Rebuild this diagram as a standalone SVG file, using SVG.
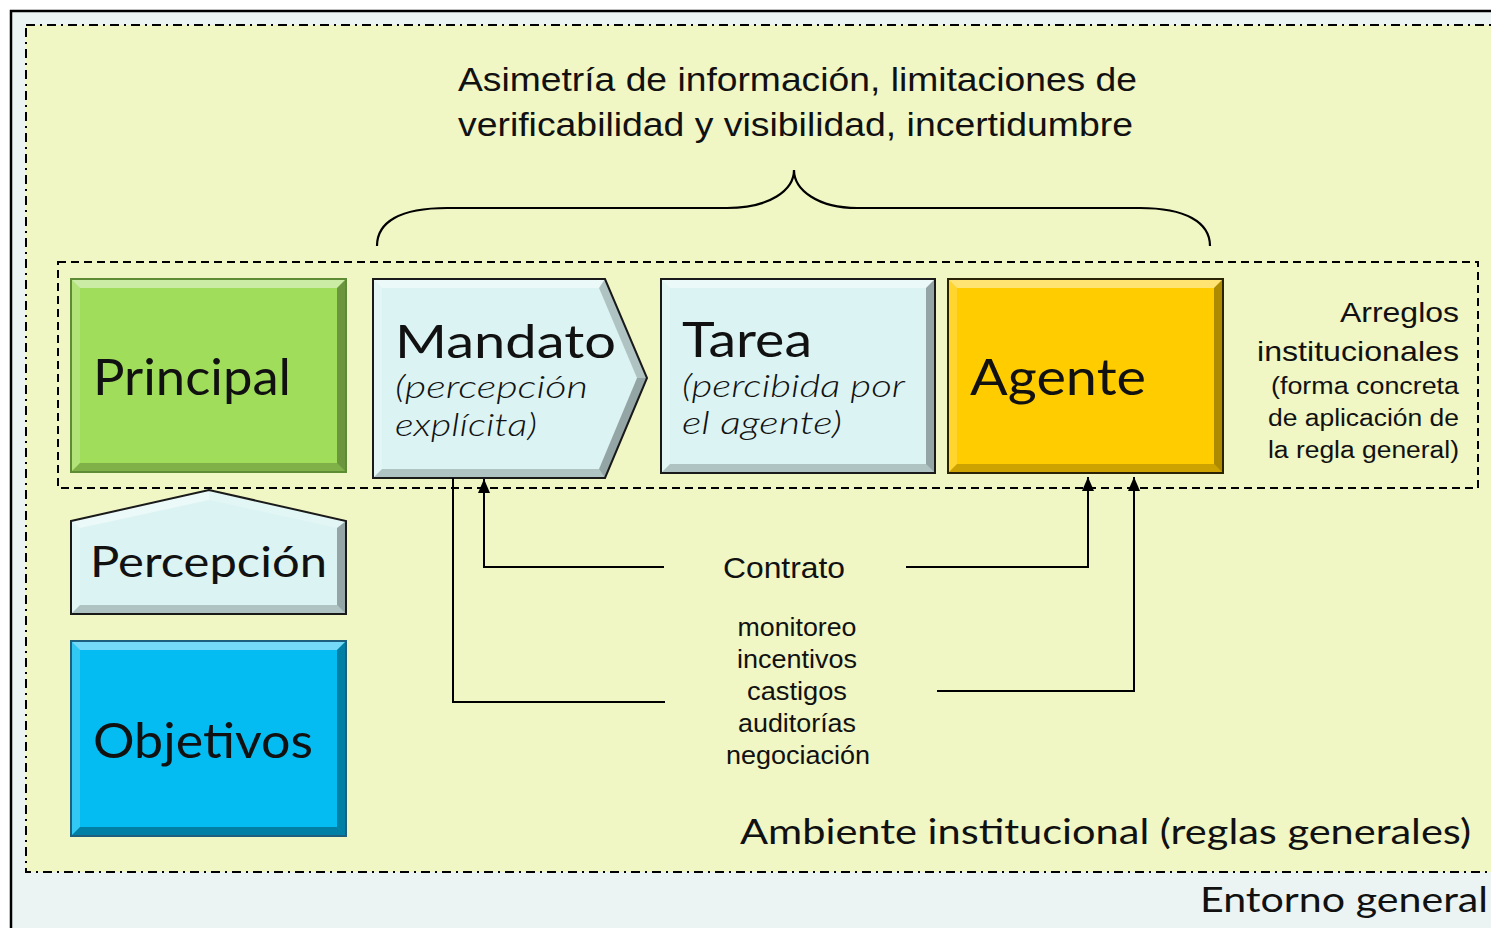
<svg xmlns="http://www.w3.org/2000/svg" width="1491" height="928" viewBox="0 0 1491 928">
<style>
.hl{fill:#fff;fill-opacity:.45}
.hl2{fill:#fff;fill-opacity:.18}
.sh{fill:#000;fill-opacity:.32}
.sh2{fill:#000;fill-opacity:.2}
.g{font-family:Lato,"Open Sans",sans-serif;font-weight:400;fill:#111}
.gi{font-family:Lato,"Open Sans",sans-serif;font-weight:300;font-style:italic;fill:#111}
.a{font-family:"Liberation Sans",Arial,sans-serif;fill:#111}
.conn{fill:none;stroke:#000;stroke-width:2}
</style>
<defs>
<marker id="arr" viewBox="0 0 14 12" refX="14" refY="6" markerWidth="14" markerHeight="12" markerUnits="userSpaceOnUse" orient="auto">
<path d="M0,0 L14,6 L0,12 z" fill="#000"/>
</marker>
</defs>
<rect x="0" y="0" width="1491" height="928" fill="#ffffff"/>
<rect id="entorno" x="11" y="11" width="1500" height="940" fill="#ECF4F3" stroke="#000" stroke-width="2.5"/>
<rect id="ambiente" x="26" y="25" width="1490" height="847" fill="#F0F6C4" stroke="#000" stroke-width="2" stroke-dasharray="9,5,2,5"/>
<rect id="arreglos-box" x="58" y="262" width="1420" height="226" fill="none" stroke="#000" stroke-width="2" stroke-dasharray="8,5"/>

<g id="title">
<text class="a" x="458" y="91" font-size="34" textLength="679" lengthAdjust="spacingAndGlyphs">Asimetría de información, limitaciones de</text>
<text class="a" x="458" y="136" font-size="34" textLength="675" lengthAdjust="spacingAndGlyphs">verificabilidad y visibilidad, incertidumbre</text>
</g>
<g id="brace">
<path d="M377,246 C377,222 400,208 447,208 L727,208 C770,208 794,190 794,170 C794,190 818,208 857,208 L1140,208 C1185,208 1210,222 1210,246" fill="none" stroke="#000" stroke-width="2.2"/>
</g>

<g id="principal">
<rect x="71" y="279" width="275" height="193" fill="#A0DD5B"/>
<polygon class="hl" points="71,279 346,279 337,288 80,288"/>
<polygon class="hl2" points="71,279 80,288 80,463 71,472"/>
<polygon class="sh" points="346,279 346,472 337,463 337,288"/>
<polygon class="sh2" points="71,472 346,472 337,463 80,463"/>
<rect x="71" y="279" width="275" height="193" fill="none" stroke="#5E8C34" stroke-width="2"/>
<text class="g" x="93" y="395" font-size="51" textLength="198" lengthAdjust="spacingAndGlyphs">Principal</text>
</g>

<g id="mandato">
<polygon points="373,279 605,279 647,378 605,478 373,478" fill="#DBF4F3"/>
<polygon class="hl" points="373,279 605,279 599,288 382,288"/>
<polygon class="hl2" points="373,279 382,288 382,469 373,478"/>
<polygon class="sh2" points="605,279 647,378 637,378 599,288"/>
<polygon class="sh" points="647,378 605,478 599,469 637,378"/>
<polygon class="sh2" points="373,478 605,478 599,469 382,469"/>
<polygon points="373,279 605,279 647,378 605,478 373,478" fill="none" stroke="#1a1a1a" stroke-width="2"/>
<text class="g" x="395" y="358" font-size="47" textLength="221" lengthAdjust="spacingAndGlyphs">Mandato</text>
<text class="gi" x="395" y="398" font-size="31" textLength="193" lengthAdjust="spacingAndGlyphs">(percepción</text>
<text class="gi" x="395" y="436" font-size="31" textLength="142" lengthAdjust="spacingAndGlyphs">explícita)</text>
</g>

<g id="tarea">
<rect x="661" y="279" width="274" height="194" fill="#DBF4F3"/>
<polygon class="hl" points="661,279 935,279 926,288 670,288"/>
<polygon class="hl2" points="661,279 670,288 670,464 661,473"/>
<polygon class="sh" points="935,279 935,473 926,464 926,288"/>
<polygon class="sh2" points="661,473 935,473 926,464 670,464"/>
<rect x="661" y="279" width="274" height="194" fill="none" stroke="#1a1a1a" stroke-width="2"/>
<text class="g" x="682" y="357" font-size="48" textLength="130" lengthAdjust="spacingAndGlyphs">Tarea</text>
<text class="gi" x="682" y="397" font-size="31" textLength="223" lengthAdjust="spacingAndGlyphs">(percibida por</text>
<text class="gi" x="682" y="434" font-size="31" textLength="160" lengthAdjust="spacingAndGlyphs">el agente)</text>
</g>

<g id="agente">
<rect x="948" y="279" width="275" height="194" fill="#FFCC00"/>
<polygon class="hl" points="948,279 1223,279 1214,288 957,288"/>
<polygon class="hl2" points="948,279 957,288 957,464 948,473"/>
<polygon class="sh" points="1223,279 1223,473 1214,464 1214,288"/>
<polygon class="sh2" points="948,473 1223,473 1214,464 957,464"/>
<rect x="948" y="279" width="275" height="194" fill="none" stroke="#2a2205" stroke-width="2"/>
<text class="g" x="970" y="395" font-size="50" textLength="176" lengthAdjust="spacingAndGlyphs">Agente</text>
</g>

<g id="arreglos">
<text class="a" x="1459" y="322" font-size="28" text-anchor="end" textLength="119" lengthAdjust="spacingAndGlyphs">Arreglos</text>
<text class="a" x="1459" y="361" font-size="28" text-anchor="end" textLength="202" lengthAdjust="spacingAndGlyphs">institucionales</text>
<text class="a" x="1459" y="394" font-size="23" text-anchor="end" textLength="188" lengthAdjust="spacingAndGlyphs">(forma concreta</text>
<text class="a" x="1459" y="426" font-size="23" text-anchor="end" textLength="191" lengthAdjust="spacingAndGlyphs">de aplicación de</text>
<text class="a" x="1459" y="458" font-size="23" text-anchor="end" textLength="191" lengthAdjust="spacingAndGlyphs">la regla general)</text>
</g>

<g id="percepcion">
<polygon points="71,521 209,490 346,521 346,614 71,614" fill="#DBF4F3"/>
<polygon class="hl" points="71,521 209,490 209,500 80,528"/>
<polygon class="hl2" points="209,490 346,521 337,528 209,500"/>
<polygon class="hl2" points="71,521 80,528 80,605 71,614"/>
<polygon class="sh" points="346,521 346,614 337,605 337,528"/>
<polygon class="sh2" points="71,614 346,614 337,605 80,605"/>
<polygon points="71,521 209,490 346,521 346,614 71,614" fill="none" stroke="#1a1a1a" stroke-width="2"/>
<text class="g" x="90" y="577" font-size="43" textLength="237" lengthAdjust="spacingAndGlyphs">Percepción</text>
</g>

<g id="objetivos">
<rect x="71" y="641" width="275" height="195" fill="#04BCF2"/>
<polygon class="hl" points="71,641 346,641 337,650 80,650"/>
<polygon class="hl2" points="71,641 80,650 80,827 71,836"/>
<polygon class="sh" points="346,641 346,836 337,827 337,650"/>
<polygon class="sh" points="71,836 346,836 337,827 80,827"/>
<rect x="71" y="641" width="275" height="195" fill="none" stroke="#1E5F7E" stroke-width="2"/>
<text class="g" x="93" y="758" font-size="48" textLength="220" lengthAdjust="spacingAndGlyphs">Objetivos</text>
</g>

<g id="connectors">
<path class="conn" d="M664,567 H484 V479" marker-end="url(#arr)"/>
<path class="conn" d="M906,567 H1088 V477" marker-end="url(#arr)"/>
<path class="conn" d="M453,478 V702 H665"/>
<path class="conn" d="M937,691 H1134 V477" marker-end="url(#arr)"/>
</g>

<g id="labels">
<text class="a" x="784" y="578" font-size="30" text-anchor="middle" textLength="122" lengthAdjust="spacingAndGlyphs">Contrato</text>
<text class="a" x="797" y="636" font-size="25" text-anchor="middle" textLength="119" lengthAdjust="spacingAndGlyphs">monitoreo</text>
<text class="a" x="797" y="668" font-size="25" text-anchor="middle" textLength="120" lengthAdjust="spacingAndGlyphs">incentivos</text>
<text class="a" x="797" y="700" font-size="25" text-anchor="middle" textLength="100" lengthAdjust="spacingAndGlyphs">castigos</text>
<text class="a" x="797" y="732" font-size="25" text-anchor="middle" textLength="118" lengthAdjust="spacingAndGlyphs">auditorías</text>
<text class="a" x="798" y="764" font-size="25" text-anchor="middle" textLength="144" lengthAdjust="spacingAndGlyphs">negociación</text>
<text class="g" x="1471" y="844" font-size="35" text-anchor="end" textLength="731" lengthAdjust="spacingAndGlyphs">Ambiente institucional (reglas generales)</text>
<text class="g" x="1488" y="912" font-size="35" text-anchor="end" textLength="288" lengthAdjust="spacingAndGlyphs">Entorno general</text>
</g>
</svg>
